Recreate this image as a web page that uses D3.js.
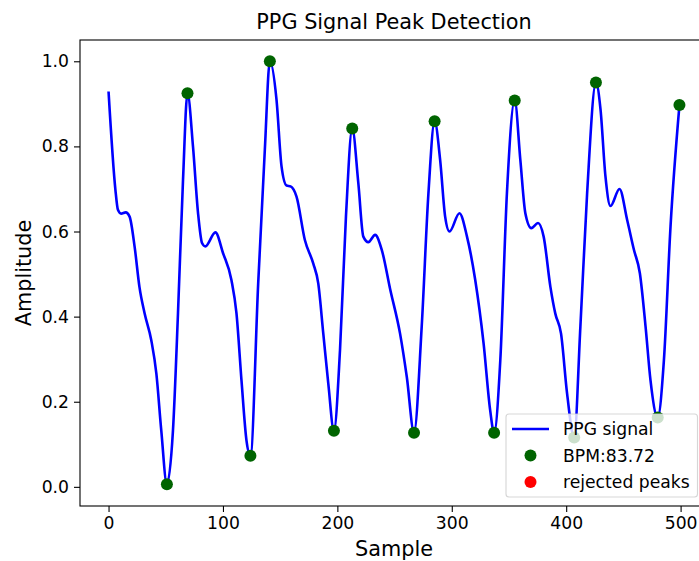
<!DOCTYPE html>
<html>
<head>
<meta charset="utf-8">
<script src="https://cdn.jsdelivr.net/npm/d3@7"></script>
<style>
  body { margin: 0; background: #fff; }
  svg { display: block; font-family: "DejaVu Sans", sans-serif; }
</style>
</head>
<body>
<div id="chart"></div>
<script>
const w = 699;
const h = 561;
// axes box (right spine sits just past the picture edge, like the source)
const xLeft = 80, xRight = 708, yTop = 40, yBottom = 506;

// PPG signal (sample index, amplitude)
const sampleX = [0, 6, 8.2, 11, 15, 18.4, 22.8, 27, 31.5, 37.4, 41.8, 46.1, 51, 56.3, 60.7, 65.1, 69,
  73.8, 78.2, 81.7, 84.6, 93.4, 100.1, 107.4, 111.8, 116.2, 120.6, 124, 130.8, 136.6, 141,
  146.8, 151.2, 155.6, 159.1, 164.3, 171.6, 178.9, 183.3, 187.7, 192.1, 197, 202.3, 207.5, 213,
  218.3, 222.7, 227.1, 233, 238.8, 246.1, 254.8, 260.7, 267, 273.7, 279.6, 285,
  289.8, 294.2, 298, 306.7, 313.3, 320.5, 327.8, 333.6, 337, 342.4, 348.2, 355,
  359.9, 364.3, 369.5, 375.4, 380.3, 386.2, 390.5, 395.5, 400.8, 407, 412.4, 418.3, 426,
  430, 434.3, 438.7, 446.6, 453.3, 459.2, 464.4, 469.4, 473.7, 480, 485.4, 491.2, 499];
const amplitude = [0.929, 0.698, 0.651, 0.642, 0.645, 0.635, 0.564, 0.47, 0.408, 0.344, 0.266, 0.132, 0.006, 0.132, 0.408, 0.722, 0.925,
  0.80, 0.644, 0.573, 0.565, 0.598, 0.549, 0.486, 0.408, 0.25, 0.108, 0.073, 0.478, 0.792, 1.0,
  0.91, 0.753, 0.708, 0.706, 0.682, 0.58, 0.525, 0.478, 0.36, 0.242, 0.132, 0.321, 0.635, 0.842,
  0.714, 0.588, 0.575, 0.592, 0.557, 0.465, 0.36, 0.258, 0.128, 0.376, 0.69, 0.859,
  0.769, 0.635, 0.6, 0.643, 0.588, 0.486, 0.337, 0.179, 0.127, 0.297, 0.69, 0.908,
  0.769, 0.643, 0.608, 0.62, 0.588, 0.47, 0.407, 0.36, 0.219, 0.116, 0.376, 0.69, 0.95,
  0.887, 0.73, 0.66, 0.70, 0.627, 0.557, 0.502, 0.376, 0.25, 0.163, 0.297, 0.612, 0.897];

// detected peaks and troughs (all shown in green)
const peakX = [69, 141, 213, 285, 355, 426, 499];
const peakY = [0.925, 1.0, 0.842, 0.859, 0.908, 0.95, 0.897];
const troughX = [51, 124, 197, 267, 337, 407, 480];
const troughY = [0.006, 0.073, 0.132, 0.127, 0.127, 0.116, 0.163];

const xTicks = [0, 100, 200, 300, 400, 500];
const yTicks = [0.0, 0.2, 0.4, 0.6, 0.8, 1.0];
const legendLabels = ["PPG signal", "BPM:83.72", "rejected peaks"];

const svg = d3.select("#chart").append("svg")
  .attr("width", w)
  .attr("height", h);

const x = d3.scaleLinear().domain([-24.95, 523.95]).range([xLeft, xRight]);
const y = d3.scaleLinear().domain([-0.045, 1.05]).range([yBottom, yTop]);

//Title
svg.append("text")
  .attr("x", (xLeft + xRight) / 2)
  .attr("y", 29)
  .attr("text-anchor", "middle")
  .style("font-size", "20.8px")
  .text("PPG Signal Peak Detection");

//Signal line
const signal = sampleX.map((d, i) => [d, amplitude[i]]);
const line = d3.line()
  .x(d => x(d[0]))
  .y(d => y(d[1]))
  .curve(d3.curveMonotoneX);

svg.append("path")
  .datum(signal)
  .attr("d", line)
  .attr("fill", "none")
  .attr("stroke", "#0000ff")
  .attr("stroke-width", 2.6)
  .attr("stroke-linejoin", "round");

//Peak and trough dots
const dots = peakX.map((d, i) => [d, peakY[i]])
  .concat(troughX.map((d, i) => [d, troughY[i]]));

svg.selectAll(".dot")
  .data(dots)
  .enter()
  .append("circle")
  .attr("class", "dot")
  .attr("cx", d => x(d[0]))
  .attr("cy", d => y(d[1]))
  .attr("r", 6)
  .attr("fill", "#006400");

//Axes
const xAxis = svg.append("g")
  .attr("transform", `translate(0,${yBottom})`)
  .call(d3.axisBottom(x).tickValues(xTicks).tickFormat(d3.format("d")).tickSize(6).tickPadding(5));
const yAxis = svg.append("g")
  .attr("transform", `translate(${xLeft},0)`)
  .call(d3.axisLeft(y).tickValues(yTicks).tickFormat(d3.format(".1f")).tickSize(6).tickPadding(5));

[xAxis, yAxis].forEach(a => {
  a.select(".domain").remove();
  a.selectAll("line").attr("stroke", "#000").attr("stroke-width", 1.1);
  a.selectAll("text")
    .attr("fill", "#000")
    .style("font-size", "17.2px")
    .style("font-family", "DejaVu Sans, sans-serif");
});

//Spines
svg.append("rect")
  .attr("x", xLeft)
  .attr("y", yTop)
  .attr("width", xRight - xLeft)
  .attr("height", yBottom - yTop)
  .attr("fill", "none")
  .attr("stroke", "#000")
  .attr("stroke-width", 1.1);

//Axis labels
svg.append("text")
  .attr("x", (xLeft + xRight) / 2)
  .attr("y", 556)
  .attr("text-anchor", "middle")
  .style("font-size", "20.8px")
  .text("Sample");

svg.append("text")
  .attr("transform", `translate(31,${(yTop + yBottom) / 2}) rotate(-90)`)
  .attr("text-anchor", "middle")
  .style("font-size", "20.8px")
  .text("Amplitude");

//Legend
const legX = 506, legY = 414, legW = 191.5, legH = 83, rowH = 26.5;
const legend = svg.append("g").attr("id", "legend");

legend.append("rect")
  .attr("x", legX)
  .attr("y", legY)
  .attr("width", legW)
  .attr("height", legH)
  .attr("rx", 3)
  .attr("fill", "#fff")
  .attr("fill-opacity", 0.8)
  .attr("stroke", "#cccccc")
  .attr("stroke-opacity", 0.8)
  .attr("stroke-width", 1.1);

const rows = legend.selectAll(".leg-row")
  .data(legendLabels)
  .enter()
  .append("g")
  .attr("class", "leg-row")
  .attr("transform", (d, i) => `translate(${legX},${legY + 15 + i * rowH})`);

rows.filter((d, i) => i === 0).append("line")
  .attr("x1", 6).attr("x2", 43)
  .attr("y1", 0).attr("y2", 0)
  .attr("stroke", "#0000ff")
  .attr("stroke-width", 2.6);

rows.filter((d, i) => i > 0).append("circle")
  .attr("cx", 24.5)
  .attr("cy", 0)
  .attr("r", 6)
  .attr("fill", (d, i) => i === 0 ? "#006400" : "#ff0000");

rows.append("text")
  .attr("x", 57)
  .attr("y", 6.2)
  .style("font-size", "17.2px")
  .text(d => d);
</script>
</body>
</html>
